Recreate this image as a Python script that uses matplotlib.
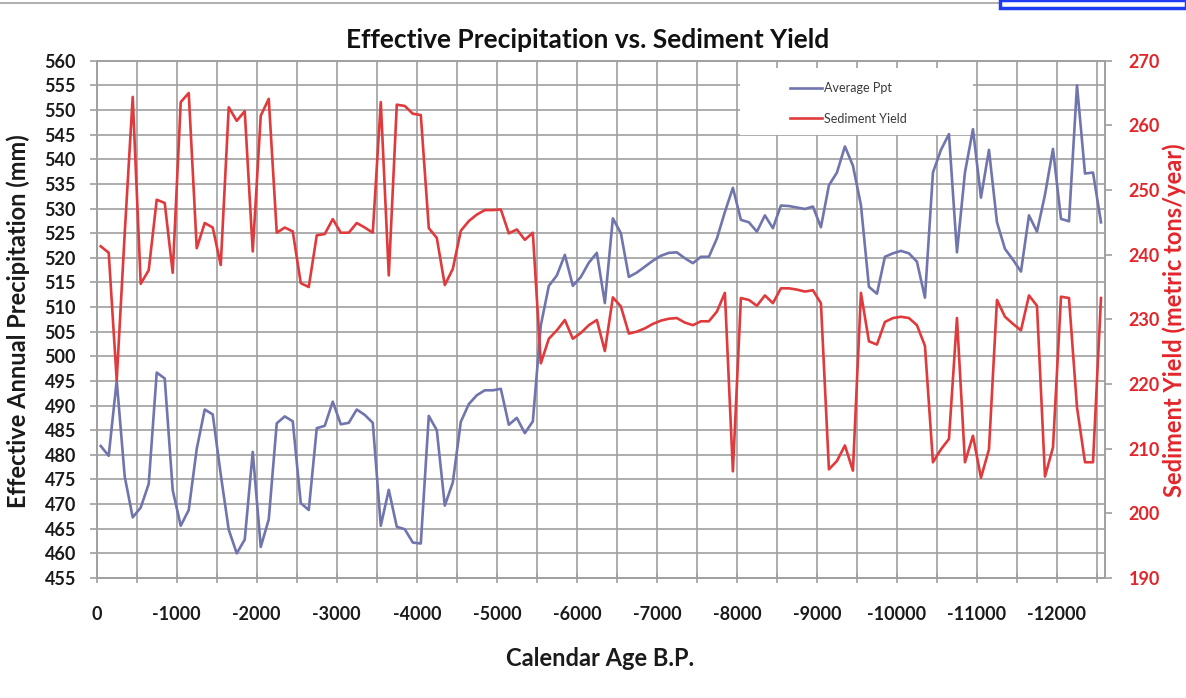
import matplotlib
matplotlib.use("Agg")
import matplotlib.pyplot as plt
from matplotlib.ticker import MultipleLocator, FuncFormatter, NullFormatter
from matplotlib.patches import Rectangle
from matplotlib.lines import Line2D

plt.rcParams['font.family'] = ['Lato', 'DejaVu Sans']

# Calendar age (years B.P., negative = older)
age = [
    -50, -150, -250, -350, -450, -550, -650, -750, -850, -950,
    -1050, -1150, -1250, -1350, -1450, -1550, -1650, -1750, -1850, -1950,
    -2050, -2150, -2250, -2350, -2450, -2550, -2650, -2750, -2850, -2950,
    -3050, -3150, -3250, -3350, -3450, -3550, -3650, -3750, -3850, -3950,
    -4050, -4150, -4250, -4350, -4450, -4550, -4650, -4750, -4850, -4950,
    -5050, -5150, -5250, -5350, -5450, -5550, -5650, -5750, -5850, -5950,
    -6050, -6150, -6250, -6350, -6450, -6550, -6650, -6750, -6850, -6950,
    -7050, -7150, -7250, -7350, -7450, -7550, -7650, -7750, -7850, -7950,
    -8050, -8150, -8250, -8350, -8450, -8550, -8650, -8750, -8850, -8950,
    -9050, -9150, -9250, -9350, -9450, -9550, -9650, -9750, -9850, -9950,
    -10050, -10150, -10250, -10350, -10450, -10550, -10650, -10750, -10850, -10950,
    -11050, -11150, -11250, -11350, -11450, -11550, -11650, -11750, -11850, -11950,
    -12050, -12150, -12250, -12350, -12450, -12550,
]

# Effective annual precipitation (mm)
avg_ppt = [
    481.8, 479.8, 495.1, 475.6, 467.3, 469.3, 474.1, 496.7, 495.5, 472.8,
    465.6, 468.8, 481.2, 489.2, 488.2, 476.0, 464.8, 460.0, 462.8, 480.6,
    461.3, 466.9, 486.4, 487.8, 486.8, 470.2, 468.8, 485.4, 485.9, 490.8,
    486.2, 486.5, 489.2, 488.1, 486.5, 465.6, 472.9, 465.4, 464.9, 462.2,
    462.0, 487.9, 485.0, 469.7, 474.4, 486.7, 490.3, 492.1, 493.1, 493.1,
    493.4, 486.1, 487.5, 484.4, 486.8, 506.3, 514.3, 516.4, 520.6, 514.3,
    516.1, 519.0, 521.0, 510.8, 528.0, 525.0, 516.1, 517.0, 518.2, 519.4,
    520.4, 521.0, 521.1, 519.9, 518.9, 520.2, 520.2, 523.9, 529.3, 534.2,
    527.7, 527.2, 525.3, 528.6, 526.0, 530.6, 530.5, 530.2, 529.9, 530.4,
    526.2, 534.7, 537.3, 542.6, 538.7, 530.7, 514.1, 512.7, 520.2, 520.9,
    521.4, 520.9, 519.2, 511.9, 537.3, 541.9, 545.1, 521.1, 537.3, 546.1,
    532.2, 541.9, 527.2, 521.8, 519.6, 517.2, 528.6, 525.3, 532.8, 542.1,
    527.9, 527.4, 555.0, 537.1, 537.3, 527.2,
]

# Sediment yield (metric tons/year)
sediment_yield = [
    241.3, 240.3, 220.6, 243.3, 264.4, 235.5, 237.6, 248.5, 248.0, 237.2,
    263.6, 265.0, 241.0, 244.9, 244.2, 238.4, 262.8, 260.7, 262.2, 240.5,
    261.5, 264.1, 243.4, 244.2, 243.6, 235.6, 235.0, 243.0, 243.2, 245.5,
    243.4, 243.4, 244.9, 244.2, 243.4, 263.6, 236.8, 263.2, 263.0, 261.8,
    261.6, 244.1, 242.6, 235.3, 237.8, 243.7, 245.2, 246.2, 246.9, 246.9,
    247.0, 243.3, 243.9, 242.3, 243.4, 223.2, 227.0, 228.3, 229.9, 227.0,
    227.9, 229.1, 229.9, 225.1, 233.4, 232.0, 227.8, 228.1, 228.6, 229.3,
    229.8, 230.1, 230.2, 229.5, 229.1, 229.7, 229.7, 231.2, 234.1, 206.5,
    233.3, 233.0, 232.1, 233.7, 232.5, 234.8, 234.8, 234.6, 234.3, 234.5,
    232.5, 206.8, 208.1, 210.5, 206.6, 234.1, 226.6, 226.1, 229.6, 230.2,
    230.4, 230.2, 229.1, 225.9, 207.9, 209.9, 211.5, 230.2, 207.9, 212.0,
    205.5, 209.9, 233.0, 230.4, 229.3, 228.3, 233.7, 232.1, 205.7, 210.2,
    233.5, 233.3, 216.4, 207.9, 207.9, 233.3,
]

series_names = ["Average Ppt", "Sediment Yield"]

BLUE = "#7075ad"
RED = "#e03a3c"
RED_TEXT = "#e3262b"
GRID = "#a0a0a0"

W, H = 1186, 698
fig = plt.figure(figsize=(W / 100, H / 100), dpi=100)
left, right, top, bottom = 96.7, 1105.0, 60.7, 578.0
ax = fig.add_axes([left / W, 1 - bottom / H, (right - left) / W, (bottom - top) / H])
ax2 = ax.twinx()

ax.set_xlim(0, -12600)
ax.set_ylim(455, 560)
ax2.set_ylim(190, 270)

ax.set_axisbelow(True)
ax.xaxis.set_major_locator(MultipleLocator(1000))
ax.xaxis.set_minor_locator(MultipleLocator(500))
ax.xaxis.set_minor_formatter(NullFormatter())
ax.xaxis.set_major_formatter(FuncFormatter(lambda v, p: f"{int(round(v))}"))
ax.yaxis.set_major_locator(MultipleLocator(5))
ax.yaxis.set_major_formatter(FuncFormatter(lambda v, p: f"{int(round(v))}"))
ax2.yaxis.set_major_locator(MultipleLocator(10))
ax2.yaxis.set_major_formatter(FuncFormatter(lambda v, p: f"{int(round(v))}"))

ax.grid(True, which="both", axis="x", color=GRID, lw=1.2)
ax.grid(True, which="major", axis="y", color=GRID, lw=1.2)

for a in (ax, ax2):
    for s in a.spines.values():
        s.set_color(GRID)
        s.set_linewidth(1.2)

ax.tick_params(axis="x", which="both", direction="inout", length=7, width=1.2,
               color=GRID, pad=17, labelsize=13, labelcolor="#1a1a1a")
ax.tick_params(axis="y", direction="out", length=5, width=1.2, color=GRID,
               pad=10, labelsize=13, labelcolor="#1a1a1a")
ax2.tick_params(axis="y", direction="out", length=5, width=1.2, color=GRID,
                pad=12, labelsize=13, labelcolor=RED_TEXT)
for lab in ax.get_xticklabels() + ax.get_yticklabels() + ax2.get_yticklabels():
    lab.set_fontweight("bold")

# white legend panel over the grid
ax.add_patch(Rectangle((740 / W, 1 - 135 / H), 233 / W, 67 / H,
                       transform=fig.transFigure, facecolor="white",
                       edgecolor="none", zorder=1.5))

ax.plot(age, avg_ppt, color=BLUE, lw=1.9, zorder=2)
ax2.plot(age, sediment_yield, color=RED, lw=1.9, zorder=2)

handles = [Line2D([], [], color=BLUE, lw=1.9), Line2D([], [], color=RED, lw=1.9)]
leg = ax2.legend(handles, series_names, loc="upper left",
                 bbox_to_anchor=(790 / W, 1 - 82 / H), bbox_transform=fig.transFigure,
                 frameon=False, fontsize=9, handlelength=2.55, handletextpad=0.15,
                 labelspacing=1.5, borderpad=0, borderaxespad=0)
for t in leg.get_texts():
    t.set_color("#3a3a3a")

fig.text(588 / W, 1 - 40 / H, "Effective Precipitation vs. Sediment Yield",
         ha="center", va="center", fontsize=19, fontweight="bold", color="#111111")
fig.text(600 / W, 1 - 658 / H, "Calendar Age B.P.", ha="center", va="center",
         fontsize=17, fontweight="bold", color="#1a1a1a")
fig.text(18 / W, 1 - 321 / H, "Effective Annual Precipitation (mm)", rotation=90,
         ha="center", va="center", fontsize=17, fontweight="bold", color="#1a1a1a")
fig.text(1174 / W, 1 - 320 / H, "Sediment Yield (metric tons/year)", rotation=90,
         ha="center", va="center", fontsize=17, fontweight="bold", color=RED_TEXT)

# window frame remnants along the top edge
fig.add_artist(Rectangle((0, 1 - 4 / H), 1, 1.5 / H, transform=fig.transFigure,
                         facecolor="#b0b0b0", edgecolor="none"))
fig.add_artist(Rectangle((1000 / W, 1 - 8 / H), 186 / W, 8 / H, transform=fig.transFigure,
                         facecolor="white", edgecolor="#1f3cf0", lw=2.5))

fig.savefig("out.png", dpi=100)
